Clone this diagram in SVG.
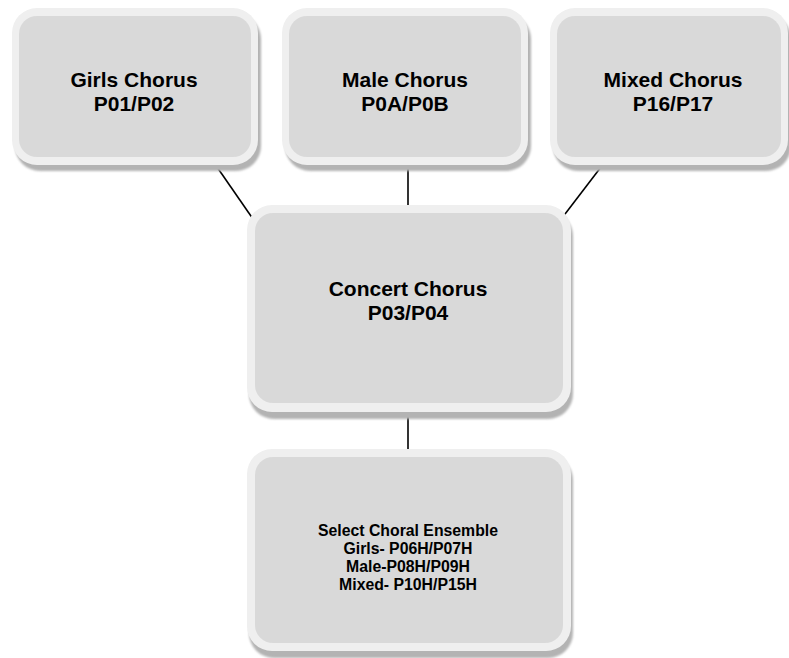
<svg xmlns="http://www.w3.org/2000/svg" width="789" height="658" viewBox="0 0 789 658">
<defs>
<filter id="sh" x="-5%" y="-5%" width="110%" height="115%"><feGaussianBlur stdDeviation="1"/></filter>
</defs>
<style>
.shadow{fill:#b3b3b3;filter:url(#sh)}
.outer{fill:#efefef}
.inner{fill:#d9d9d9}
.big{font-family:"Liberation Sans",Arial,sans-serif;font-weight:bold;font-size:21px;fill:#000;text-anchor:middle}
.small{font-family:"Liberation Sans",Arial,sans-serif;font-weight:bold;font-size:15.8px;fill:#000;text-anchor:middle}
.conn{stroke:#000;stroke-width:1.6;fill:none}
</style>
<rect width="789" height="658" fill="#fff"/>
<g id="connectors">
<line class="conn" x1="217" y1="167" x2="253" y2="219"/>
<line class="conn" x1="601" y1="167" x2="562" y2="218"/>
<line class="conn" x1="408" y1="167" x2="408" y2="206"/>
<line class="conn" x1="408" y1="416" x2="408" y2="449"/>
</g>
<g id="girls">
<rect class="shadow" x="15" y="14" width="246" height="157" rx="25"/>
<rect class="outer" x="12" y="8" width="246" height="157" rx="25"/>
<rect class="inner" x="19" y="16" width="232" height="141" rx="18"/>
<text class="big" x="134" y="87">Girls Chorus</text>
<text class="big" x="134" y="111">P01/P02</text>
</g>
<g id="male">
<rect class="shadow" x="285" y="14" width="246" height="157" rx="25"/>
<rect class="outer" x="282" y="8" width="246" height="157" rx="25"/>
<rect class="inner" x="289" y="16" width="232" height="141" rx="18"/>
<text class="big" x="405" y="87">Male Chorus</text>
<text class="big" x="405" y="111">P0A/P0B</text>
</g>
<g id="mixed">
<rect class="shadow" x="553" y="14" width="238" height="157" rx="25"/>
<rect class="outer" x="550" y="8" width="238" height="157" rx="25"/>
<rect class="inner" x="557" y="16" width="224" height="141" rx="18"/>
<text class="big" x="673" y="87">Mixed Chorus</text>
<text class="big" x="673" y="111">P16/P17</text>
</g>
<g id="concert">
<rect class="shadow" x="249" y="211" width="324" height="208" rx="25"/>
<rect class="outer" x="247" y="205" width="324" height="207" rx="25"/>
<rect class="inner" x="255" y="213" width="308" height="190" rx="18"/>
<text class="big" x="408" y="296">Concert Chorus</text>
<text class="big" x="408" y="320">P03/P04</text>
</g>
<g id="select">
<rect class="shadow" x="249" y="455" width="324" height="203" rx="25"/>
<rect class="outer" x="247" y="449" width="324" height="202" rx="25"/>
<rect class="inner" x="255" y="457" width="308" height="186" rx="18"/>
<text class="small" x="408" y="536">Select Choral Ensemble</text>
<text class="small" x="408" y="554">Girls- P06H/P07H</text>
<text class="small" x="408" y="572">Male-P08H/P09H</text>
<text class="small" x="408" y="590">Mixed- P10H/P15H</text>
</g>
</svg>
